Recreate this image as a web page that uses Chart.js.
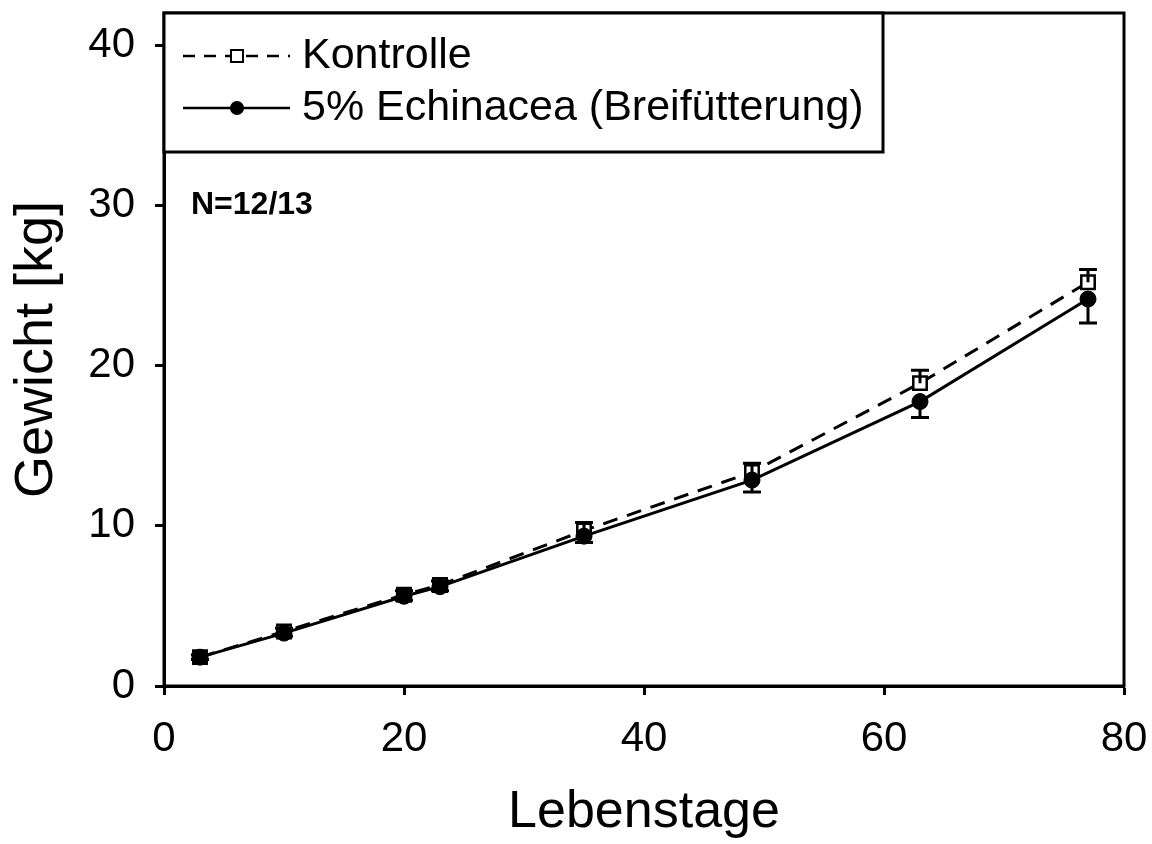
<!DOCTYPE html>
<html>
<head>
<meta charset="utf-8">
<script src="https://cdn.jsdelivr.net/npm/chart.js@4"></script>
<style>
  html, body { margin: 0; padding: 0; background: #fff; }
  #wrap { width: 1152px; height: 844px; }
</style>
</head>
<body>
<div id="wrap"><canvas id="weightChart" width="1152" height="844"></canvas></div>
<script>
// Lebenstage (x) and mean weights in kg
var days = [3, 10, 20, 23, 35, 49, 63, 77];
var kontrolle = [1.8, 3.4, 5.7, 6.3, 9.7, 13.35, 18.9, 25.2];
var kontrolleErr = [0.15, 0.2, 0.25, 0.25, 0.5, 0.55, 0.8, 0.8];
var echinacea = [1.8, 3.3, 5.6, 6.2, 9.35, 12.85, 17.75, 24.15];
var echinaceaErr = [0.15, 0.2, 0.25, 0.25, 0.4, 0.75, 1.0, 1.5];
var xTicks = [0, 20, 40, 60, 80];
var yTicks = [0, 10, 20, 30, 40];
var seriesNames = ['Kontrolle', '5% Echinacea (Breifütterung)'];
var noteText = 'N=12/13';

var FONT = '"Liberation Sans", Arial, sans-serif';
Chart.defaults.font.family = FONT;
Chart.defaults.color = '#000';

function toPoints(xs, ys) {
  var pts = [];
  for (var i = 0; i < xs.length; i++) {
    pts.push({ x: xs[i], y: ys[i] });
  }
  return pts;
}

// error bars: Kontrolle upwards, Echinacea downwards
var errorBars = {
  id: 'errorBars',
  afterDatasetsDraw: function(chart) {
    var ctx = chart.ctx;
    var xs = chart.scales.x;
    var ys = chart.scales.y;
    ctx.save();
    ctx.strokeStyle = '#000';
    ctx.lineWidth = 3;
    function bars(vals, errs, dir) {
      for (var i = 0; i < days.length; i++) {
        var px = xs.getPixelForValue(days[i]);
        var p0 = ys.getPixelForValue(vals[i]);
        var p1 = ys.getPixelForValue(vals[i] + dir * errs[i]);
        ctx.beginPath();
        ctx.moveTo(px, p0);
        ctx.lineTo(px, p1);
        ctx.moveTo(px - 9, p1);
        ctx.lineTo(px + 9, p1);
        ctx.stroke();
      }
    }
    bars(kontrolle, kontrolleErr, 1);
    bars(echinacea, echinaceaErr, -1);
    ctx.restore();
  }
};

// frame, legend box and the N note
var frameAndLegend = {
  id: 'frameAndLegend',
  afterDraw: function(chart) {
    var ctx = chart.ctx;
    var a = chart.chartArea;
    ctx.save();
    ctx.strokeStyle = '#000';
    ctx.lineWidth = 3;
    ctx.strokeRect(a.left, a.top, a.right - a.left, a.bottom - a.top);

    // legend box
    var lx = a.left, ly = a.top, lw = 719, lh = 139;
    ctx.fillStyle = '#fff';
    ctx.fillRect(lx, ly, lw, lh);
    ctx.strokeRect(lx, ly, lw, lh);

    var row1 = ly + 43, row2 = ly + 95;
    var s0 = lx + 19, s1 = lx + 126, mid = lx + 73;

    ctx.lineWidth = 2.5;
    ctx.setLineDash([12, 9]);
    ctx.beginPath();
    ctx.moveTo(s0, row1);
    ctx.lineTo(s1, row1);
    ctx.stroke();
    ctx.setLineDash([]);
    ctx.fillStyle = '#fff';
    ctx.lineWidth = 2;
    ctx.fillRect(mid - 6, row1 - 6, 12, 12);
    ctx.strokeRect(mid - 6, row1 - 6, 12, 12);

    ctx.lineWidth = 2.5;
    ctx.beginPath();
    ctx.moveTo(s0, row2);
    ctx.lineTo(s1, row2);
    ctx.stroke();
    ctx.fillStyle = '#000';
    ctx.beginPath();
    ctx.arc(mid, row2, 7, 0, Math.PI * 2);
    ctx.fill();

    ctx.fillStyle = '#000';
    ctx.font = '43px ' + FONT;
    ctx.textBaseline = 'middle';
    ctx.textAlign = 'left';
    ctx.fillText(seriesNames[0], lx + 138, row1);
    ctx.fillText(seriesNames[1], lx + 138, row2);

    ctx.font = 'bold 32px ' + FONT;
    ctx.fillText(noteText, a.left + 27, chart.scales.y.getPixelForValue(30));
    ctx.restore();
  }
};

new Chart(document.getElementById('weightChart').getContext('2d'), {
  type: 'line',
  data: {
    datasets: [{
      label: seriesNames[1],
      data: toPoints(days, echinacea),
      order: 0,
      borderColor: '#000',
      borderWidth: 3,
      pointStyle: 'circle',
      pointRadius: 8,
      pointBackgroundColor: '#000',
      pointBorderColor: '#000',
      pointBorderWidth: 1,
      tension: 0
    }, {
      label: seriesNames[0],
      data: toPoints(days, kontrolle),
      order: 1,
      borderColor: '#000',
      borderWidth: 3,
      borderDash: [15, 10],
      pointStyle: 'rect',
      pointRadius: 9.5,
      pointBackgroundColor: '#fff',
      pointBorderColor: '#000',
      pointBorderWidth: 2.5,
      tension: 0
    }]
  },
  options: {
    responsive: false,
    animation: false,
    layout: { padding: { top: 13, right: 28, left: 0, bottom: 0 } },
    plugins: {
      legend: { display: false },
      tooltip: { enabled: false }
    },
    scales: {
      x: {
        type: 'linear',
        min: 0,
        max: 80,
        afterFit: function(scale) {
          scale.height = 158;
          scale.paddingLeft = 0;
          scale.paddingRight = 0;
        },
        afterBuildTicks: function(scale) {
          scale.ticks = xTicks.map(function(v) { return { value: v }; });
        },
        ticks: { font: { size: 42 }, color: '#000', padding: 19, maxRotation: 0 },
        grid: { drawOnChartArea: false, drawTicks: true, tickLength: 9, tickWidth: 3, tickColor: '#000' },
        border: { display: true, color: '#000', width: 3 },
        title: { display: true, text: 'Lebenstage', font: { size: 52 }, color: '#000', padding: { top: 0, bottom: 0 } }
      },
      y: {
        type: 'linear',
        min: 0,
        max: 42,
        afterFit: function(scale) {
          scale.width = 164;
          scale.paddingTop = 0;
          scale.paddingBottom = 0;
        },
        afterBuildTicks: function(scale) {
          scale.ticks = yTicks.map(function(v) { return { value: v }; });
        },
        ticks: { font: { size: 42 }, color: '#000', padding: 20 },
        grid: { drawOnChartArea: false, drawTicks: true, tickLength: 9, tickWidth: 3, tickColor: '#000' },
        border: { display: true, color: '#000', width: 3 },
        title: { display: true, text: 'Gewicht [kg]', font: { size: 54 }, color: '#000', padding: { top: 5, bottom: 0 } }
      }
    }
  },
  plugins: [errorBars, frameAndLegend]
});
</script>
</body>
</html>
